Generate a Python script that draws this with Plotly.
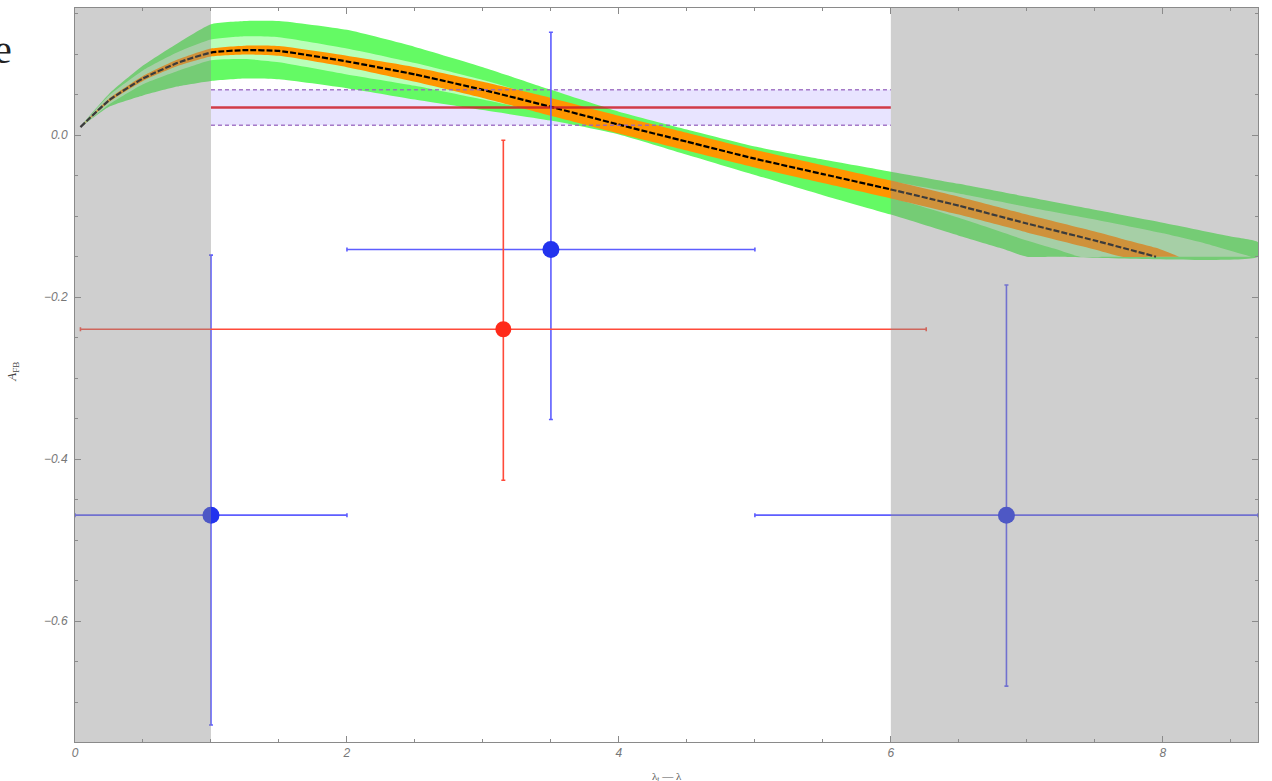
import plotly.graph_objects as go

# ---------------- data ----------------
# black central curve
center_x = [0.04, 0.25, 0.5, 0.75, 1.0, 1.25, 1.5, 2.0, 2.5, 3.0, 3.5, 4.0, 4.5, 5.0, 5.5, 6.0, 6.5, 7.0, 7.5, 7.95]
center_y = [0.010, 0.043, 0.070, 0.089, 0.102, 0.105, 0.104, 0.091, 0.075, 0.056, 0.035, 0.013, -0.008, -0.029, -0.048, -0.067, -0.087, -0.109, -0.130, -0.150]

# orange band
orange_x = [0.04, 0.25, 0.5, 0.75, 1.0, 1.25, 1.5, 2.0, 2.5, 3.0, 3.5, 4.0, 4.5, 5.0, 5.5, 6.0, 6.5, 7.0, 7.5, 7.7, 7.95, 8.12]
orange_hi = [0.010, 0.045, 0.073, 0.093, 0.107, 0.1105, 0.110, 0.098, 0.084, 0.066, 0.046, 0.024, 0.003, -0.018, -0.037, -0.056, -0.076, -0.098, -0.119, -0.128, -0.139, -0.150]
orange_lo = [0.010, 0.041, 0.067, 0.085, 0.097, 0.0995, 0.098, 0.084, 0.066, 0.046, 0.024, 0.002, -0.019, -0.040, -0.059, -0.078, -0.098, -0.120, -0.141, -0.150, -0.150, -0.150]

# inner (light green) band
light_hi_x = [0.04, 0.25, 0.5, 0.75, 1.0, 1.25, 1.5, 2.0, 2.5, 3.0, 3.5, 4.0, 4.5, 5.0, 5.5, 6.0, 6.5, 7.0, 7.5, 8.0, 8.3, 8.65]
light_hi = [0.010, 0.049, 0.080, 0.102, 0.118, 0.122, 0.121, 0.107, 0.089, 0.068, 0.044, 0.020, -0.002, -0.022, -0.040, -0.057, -0.072, -0.0885, -0.104, -0.121, -0.133, -0.150]
light_lo_x = [0.04, 0.25, 0.5, 0.75, 1.0, 1.25, 1.5, 2.0, 2.5, 3.0, 3.5, 4.0, 4.5, 5.0, 5.5, 6.0, 6.5, 7.0, 7.2, 7.39, 7.6, 8.65]
light_lo = [0.010, 0.038, 0.063, 0.079, 0.0926, 0.094, 0.090, 0.075, 0.061, 0.044, 0.026, 0.006, -0.014, -0.036, -0.056, -0.077, -0.102, -0.130, -0.140, -0.150, -0.150, -0.150]

# outer (green) band
outer_hi_x = [0.04, 0.25, 0.5, 0.75, 1.0, 1.25, 1.5, 2.0, 2.5, 3.0, 3.5, 4.0, 4.5, 5.0, 5.5, 6.0, 6.5, 7.0, 7.5, 8.0, 8.5, 8.7]
outer_hi = [0.010, 0.051, 0.086, 0.113, 0.137, 0.141, 0.141, 0.130, 0.109, 0.084, 0.056, 0.029, 0.007, -0.014, -0.030, -0.045, -0.060, -0.076, -0.092, -0.108, -0.125, -0.132]
outer_lo_x = [0.04, 0.25, 0.5, 0.75, 1.0, 1.25, 1.5, 2.0, 2.5, 3.0, 3.5, 4.0, 4.5, 5.0, 5.5, 6.0, 6.5, 6.8, 7.0, 7.2, 8.7]
outer_lo = [0.010, 0.035, 0.049, 0.060, 0.067, 0.070, 0.069, 0.058, 0.044, 0.031, 0.018, 0.001, -0.024, -0.049, -0.074, -0.098, -0.124, -0.139, -0.150, -0.150, -0.150]

# horizontal measurement band
band_x = [1.0, 6.0]
band_center = 0.0342
band_upper = 0.0562
band_lower = 0.0122

# blue data points
blue_x = [1.0, 3.5, 6.85]
blue_y = [-0.469, -0.141, -0.469]
blue_xerr = [1.0, 1.5, 1.85]
blue_yerr_up = [0.321, 0.268, 0.284]
blue_yerr_dn = [0.259, 0.210, 0.211]

# red data point
red_x = [3.15]
red_y = [-0.2395]
red_xerr = [3.11]
red_yerr_up = [0.2333]
red_yerr_dn = [0.1865]

# shaded (excluded) regions
shade_regions = [(0.0, 1.0), (6.0, 8.7)]

x_ticks = [0, 2, 4, 6, 8]
y_ticks = [-0.6, -0.4, -0.2, 0.0]
x_range = [0, 8.7]
y_range = [-0.749, 0.157]

# ---------------- figure ----------------
fig = go.Figure()


def band(xu, yu, xl, yl, color):
    return go.Scatter(
        x=list(xu) + list(xl)[::-1],
        y=list(yu) + list(yl)[::-1],
        fill="toself", fillcolor=color, mode="lines",
        line=dict(width=0, shape="spline", smoothing=0.5),
        hoverinfo="skip", showlegend=False,
    )


fig.add_trace(band(outer_hi_x, outer_hi, outer_lo_x, outer_lo, "rgb(100,250,100)"))
fig.add_trace(band(light_hi_x, light_hi, light_lo_x, light_lo, "rgb(185,255,185)"))
fig.add_trace(band(orange_x, orange_hi, orange_x, orange_lo, "rgb(255,150,0)"))
fig.add_trace(go.Scatter(x=center_x, y=center_y, mode="lines",
                         line=dict(color="black", width=2.2, dash="6px,2px", shape="spline", smoothing=0.5),
                         showlegend=False, hoverinfo="skip"))

# measurement band edges and central value
for yv in (band_upper, band_lower):
    fig.add_trace(go.Scatter(x=band_x, y=[yv, yv], mode="lines",
                             line=dict(color="rgba(150,100,190,0.85)", width=1.5, dash="4px,3px"),
                             showlegend=False, hoverinfo="skip"))
fig.add_trace(go.Scatter(x=band_x, y=[band_center, band_center], mode="lines",
                         line=dict(color="rgba(205,30,40,0.85)", width=2.5),
                         showlegend=False, hoverinfo="skip"))

# data points
fig.add_trace(go.Scatter(
    x=blue_x, y=blue_y, mode="markers",
    marker=dict(color="#2233ee", size=17),
    error_x=dict(type="data", array=blue_xerr, color="#5e5eff", thickness=1.6, width=2),
    error_y=dict(type="data", symmetric=False, array=blue_yerr_up, arrayminus=blue_yerr_dn,
                 color="#5e5eff", thickness=1.6, width=2),
    cliponaxis=False, showlegend=False))
fig.add_trace(go.Scatter(
    x=red_x, y=red_y, mode="markers",
    marker=dict(color="#ff2a1a", size=16),
    error_x=dict(type="data", array=red_xerr, color="#ff4a3a", thickness=1.6, width=2),
    error_y=dict(type="data", symmetric=False, array=red_yerr_up, arrayminus=red_yerr_dn,
                 color="#ff4a3a", thickness=1.6, width=2),
    cliponaxis=False, showlegend=False))

shapes = [dict(type="rect", xref="x", yref="y", x0=band_x[0], x1=band_x[1],
               y0=band_lower, y1=band_upper, fillcolor="rgba(205,195,255,0.45)",
               line=dict(width=0), layer="below")]
for a, b in shade_regions:
    shapes.append(dict(type="rect", xref="x", yref="paper", x0=a, x1=b, y0=0, y1=1,
                       fillcolor="#8c8c8c", opacity=0.42, line=dict(width=0), layer="above"))

tickfont = dict(family="Liberation Sans", size=12, color="#777777", style="italic")
axis_common = dict(showgrid=False, zeroline=False, showline=True, linecolor="#8a8a8a", linewidth=1,
                   mirror="ticks", ticks="inside", ticklen=6, tickcolor="#8a8a8a", tickfont=tickfont)

fig.update_layout(
    width=1272, height=781,
    margin=dict(l=75, r=14, t=8, b=39),
    paper_bgcolor="white", plot_bgcolor="white",
    shapes=shapes,
    xaxis=dict(range=x_range, tickvals=x_ticks, **axis_common,
               minor=dict(dtick=0.5, ticks="inside", ticklen=3, tickcolor="#8a8a8a", showgrid=False)),
    yaxis=dict(range=y_range, tickvals=y_ticks, tickformat=".1f", ticklabelstandoff=4, **axis_common,
               minor=dict(dtick=0.05, ticks="inside", ticklen=3, tickcolor="#8a8a8a", showgrid=False)),
    annotations=[
        dict(text="<i>A</i><sub>FB</sub>", xref="paper", yref="paper", x=-0.044, y=0.505,
             xanchor="right", textangle=-90, showarrow=False,
             font=dict(family="Liberation Serif", size=13, color="#444")),
        dict(text="λ<sub>t</sub> — λ", xref="paper", yref="paper", x=0.50, y=-0.035,
             xanchor="center", yanchor="top", showarrow=False,
             font=dict(family="Liberation Serif", size=11, color="#555")),
        dict(text="e", xref="paper", yref="paper", x=-0.061, y=0.943, xanchor="center", yanchor="middle",
             showarrow=False, font=dict(family="Liberation Serif", size=40, color="#222")),
    ],
)

fig.write_html("out.html")
